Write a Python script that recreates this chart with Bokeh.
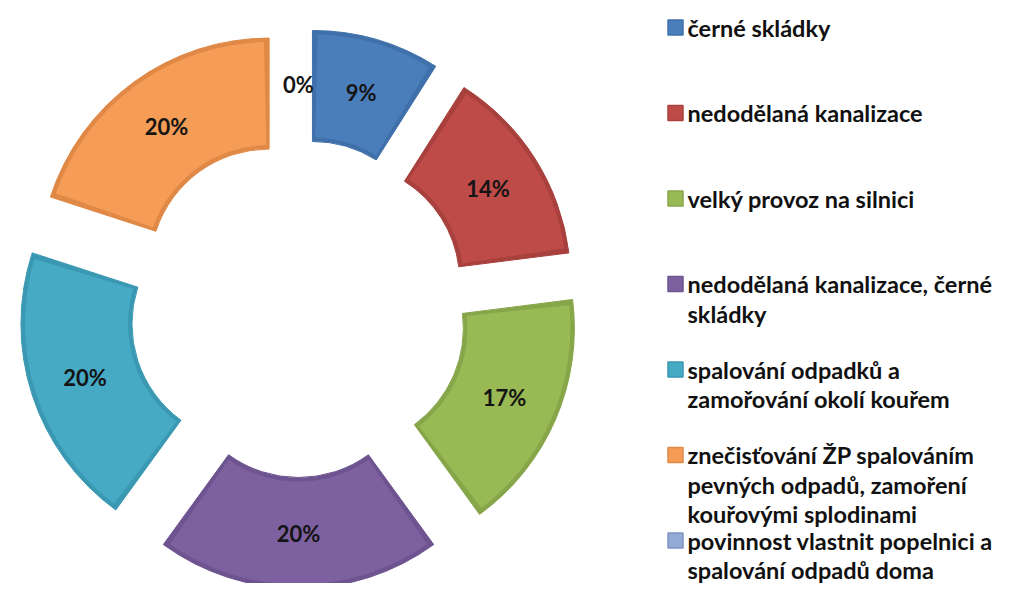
import numpy as np
from bokeh.plotting import figure
from bokeh.models import Range1d, ColumnDataSource
from bokeh.embed import file_html
from bokeh.resources import INLINE
from bokeh.core.properties import value

# ---- data ----
categories = [
    "černé skládky",
    "nedodělaná kanalizace",
    "velký provoz na silnici",
    "nedodělaná kanalizace, černé\nskládky",
    "spalování odpadků a\nzamořování okolí  kouřem",
    "znečisťování ŽP spalováním\npevných odpadů, zamoření\nkouřovými splodinami",
    "povinnost vlastnit popelnici a\nspalování odpadů doma",
]
values = [9, 14, 17, 20, 20, 20, 0]
pct_labels = ["9%", "14%", "17%", "20%", "20%", "20%", "0%"]
colors = ["#4A7EBB", "#BE4B48", "#98B954", "#7D60A0", "#46AAC5", "#F59D56", "#93A9D6"]
edge_colors = ["#3F70AA", "#A8403D", "#86A649", "#6D538F", "#3A98B2", "#E08946", "#7D94C4"]

# ---- layout (pixel-like coordinates) ----
W, H = 1008, 583
cx, cy = 298, -308
R_out, R_in = 230, 119
explode = 50
bevel = 4

p = figure(width=W, height=H, output_backend="svg", toolbar_location=None,
           x_range=Range1d(0, W), y_range=Range1d(-H, 0),
           min_border=0, background_fill_color="white", border_fill_color="white")
p.axis.visible = False
p.grid.visible = False
p.outline_line_color = None

vals = np.array(values, dtype=float)
total = vals.sum()
ends = np.cumsum(vals) / total * 2 * np.pi
starts = ends - vals / total * 2 * np.pi
mids = (starts + ends) / 2

xs = cx + explode * np.sin(mids)
ys = cy + explode * np.cos(mids)

mask = vals > 0
d_ang = bevel / ((R_in + R_out) / 2)
wsrc = ColumnDataSource(dict(
    x=xs[mask], y=ys[mask],
    start=(np.pi / 2 - ends)[mask], end=(np.pi / 2 - starts)[mask],
    start_in=(np.pi / 2 - ends + d_ang)[mask], end_in=(np.pi / 2 - starts - d_ang)[mask],
    fill=[c for c, m in zip(colors, mask) if m],
    edge=[c for c, m in zip(edge_colors, mask) if m],
))
# bevel frame (darker) then face
p.annular_wedge(x="x", y="y", inner_radius=R_in, outer_radius=R_out,
                start_angle="start", end_angle="end", direction="anticlock",
                fill_color="edge", line_color="edge", line_width=1, source=wsrc)
p.annular_wedge(x="x", y="y", inner_radius=R_in + bevel, outer_radius=R_out - bevel,
                start_angle="start_in", end_angle="end_in", direction="anticlock",
                fill_color="fill", line_color=None, source=wsrc)

r_lab = (R_in + R_out) / 2
lsrc = ColumnDataSource(dict(
    x=xs + r_lab * np.sin(mids), y=ys + r_lab * np.cos(mids), t=pct_labels))
p.text(x="x", y="y", text="t", source=lsrc, text_align="center",
       text_baseline="middle", text_font=value("Lato"), text_font_style="bold",
       text_font_size="22px", text_color="#141414")

# ---- legend ----
leg_x_sq, leg_x_txt = 675, 687
leg_y0, leg_step, line_step = -27, -85.5, -29.5
sq_x, sq_y, sq_c, sq_e = [], [], [], []
tx, ty, tt = [], [], []
for i, (cat, c, e) in enumerate(zip(categories, colors, edge_colors)):
    y0 = leg_y0 + i * leg_step
    sq_x.append(leg_x_sq); sq_y.append(y0); sq_c.append(c); sq_e.append(e)
    for j, line in enumerate(cat.split("\n")):
        tx.append(leg_x_txt); ty.append(y0 + j * line_step); tt.append(line)

p.scatter(x=sq_x, y=sq_y, marker="square", size=15, fill_color=sq_c,
          line_color=sq_e, line_width=1.5)
p.text(x=tx, y=ty, text=tt, text_align="left", text_baseline="middle",
       text_font=value("Lato"), text_font_style="bold", text_font_size="23.5px",
       text_color="#111111")

open("out.html", "w").write(file_html(p, INLINE))
